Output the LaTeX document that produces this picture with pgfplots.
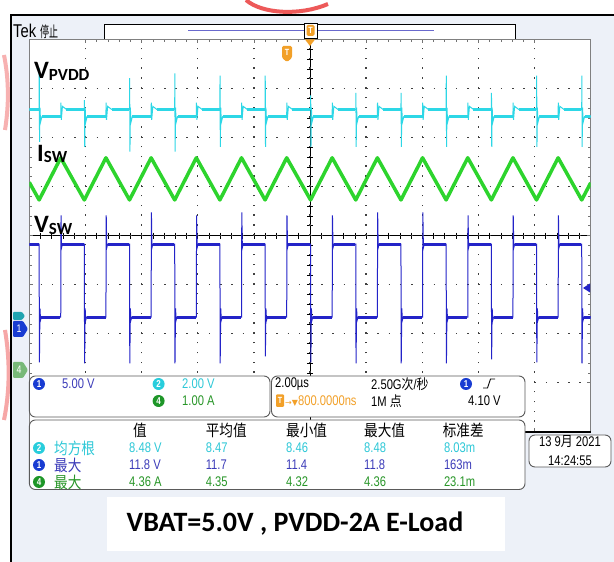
\documentclass[border=0pt]{standalone}
\usepackage{pgfplots}
\pgfplotsset{compat=1.18}
\usepackage{fontspec}
\setmainfont{Liberation Sans}
\newfontfamily\tek[FakeStretch=0.8]{Liberation Sans}
\newfontfamily\zh[FakeStretch=0.85]{Noto Sans CJK SC}
\newfontfamily\zhn[FakeStretch=0.6]{Noto Sans CJK SC}
\newfontfamily\calfont{Carlito}
\newfontfamily\dvfont{DejaVu Sans}

\definecolor{chone}{RGB}{35,35,200}
\definecolor{chtwo}{RGB}{45,215,230}
\definecolor{chfour}{RGB}{45,212,45}
\definecolor{bgpanel}{RGB}{237,241,248}
\definecolor{tekorange}{RGB}{242,160,40}
\definecolor{barblue}{RGB}{105,105,205}
\definecolor{txtone}{RGB}{60,60,185}
\definecolor{txttwo}{RGB}{45,200,215}
\definecolor{txtfour}{RGB}{40,150,40}
\definecolor{badgeone}{RGB}{25,60,210}
\definecolor{badgetwo}{RGB}{40,205,220}
\definecolor{badgefour}{RGB}{30,150,40}
\definecolor{markgreen}{RGB}{120,185,120}
\definecolor{panelgray}{RGB}{90,90,90}
\definecolor{wmred}{RGB}{235,60,60}

\newcommand{\badge}[3]{\node[circle, fill=#1, text=white, inner sep=0pt, minimum size=12pt,
  font=\tek\bfseries\fontsize{10}{10}\selectfont] at (#2) {#3};}

\begin{document}
\begin{tikzpicture}
\useasboundingbox (0pt,0pt) rectangle (614pt,562pt);
% pixel-style coordinates (y down) for the screen furniture
\begin{scope}[x=1pt, y=-1pt, yshift=562pt]
\fill[white] (0,0) rectangle (614,562);
% faint watermark remains outside the frame
\draw[wmred, line width=4pt, opacity=0.85] (246,0) .. controls (262,14) and (300,16) .. (328,4);
\draw[wmred!40, line width=4pt] (4,55) .. controls (9,80) and (9,105) .. (5,130);
\draw[wmred!45, line width=4pt] (5,330) .. controls (10,360) and (10,390) .. (4,420);
\fill[bgpanel] (11,15) rectangle (614,562);
\draw[black, line width=2.5pt] (11,562) -- (11,15) -- (614,15);

% top status bar
\node[anchor=base west, inner sep=0pt] at (13,37.5) {\tek\fontsize{18.5}{18.5}\selectfont Tek};
\node[anchor=base west, inner sep=0pt] at (40,37.5) {\zhn\fontsize{15}{15}\selectfont 停止};
\draw[black, line width=0.8pt, fill=white] (104.5,24) rectangle (515,39);
\draw[barblue, line width=1.5pt] (188,30.7) -- (434,30.7);
\draw[black, line width=1pt, fill=white] (304,23.5) rectangle (317,39);
\fill[tekorange, rounded corners=1.5pt] (306.5,25) rectangle (314.5,36);
\node[text=white, font=\tek\bfseries\fontsize{9}{9}\selectfont] at (310.5,30.5) {T};

% screen and centre cross
\fill[white] (29.3,39.5) rectangle (590.7,431.7);
\draw[black, line width=0.8pt] (310,39.5) -- (310,431.7);
\draw[black, line width=0.8pt] (29.3,235.6) -- (590.7,235.6);
\foreach \i in {1,...,49} \draw[black, line width=0.6pt] ({29.3+\i*11.228},232.6) -- ++(0,6);
\foreach \i in {1,...,39} \draw[black, line width=0.6pt] (307,{39.5+\i*9.805}) -- ++(6,0);
\end{scope}

\begin{axis}[
  at={(29.3pt,130.3pt)}, anchor=south west,
  width=561.4pt, height=392.2pt, scale only axis,
  xmin=-10, xmax=10, ymin=-4, ymax=4,
  axis line style={draw=black!50, line width=0.6pt},
  xtick={-8,-6,...,8}, ytick={-3,-2,...,3},
  minor x tick num=4, minor y tick num=4,
  xticklabels={}, yticklabels={},
  tick align=inside,
  major tick length=4pt, minor tick length=3pt,
  tick style={black!55, line width=0.6pt},
  xmajorgrids, ymajorgrids,
  x grid style={black!75, line width=1.5pt, dash pattern=on 1.5pt off 8.305pt},
  y grid style={black!75, line width=1.5pt, dash pattern=on 1.5pt off 9.728pt},
  unbounded coords=jump,
]
% CH2 V_PVDD, 2 V/div
\addplot[chtwo, line width=1pt, y filter/.expression={y/2-1.739}] coordinates {
(-10,8.63)
(-9.65,8.63)(-9.645,10.3)(-9.635,7.3)(-9.62,8.7)(-9.60,8.1)(-9.55,8.33)(-8.88,8.33)(-8.875,8.9)(-8.86,8.2)(-8.82,8.75)(-8.68,8.63)
(-8.04,8.63)(-8.035,9.0)(-8.025,7.1)(-8.01,8.7)(-7.99,8.1)(-7.94,8.33)(-7.27,8.33)(-7.265,8.9)(-7.25,8.2)(-7.21,8.75)(-7.07,8.63)
(-6.43,8.63)(-6.425,9.9)(-6.415,6.9)(-6.40,8.7)(-6.38,8.1)(-6.33,8.33)(-5.66,8.33)(-5.655,8.9)(-5.64,8.2)(-5.60,8.75)(-5.46,8.63)
(-4.82,8.63)(-4.815,10.1)(-4.805,6.9)(-4.79,8.7)(-4.77,8.1)(-4.72,8.33)(-4.05,8.33)(-4.045,8.9)(-4.03,8.2)(-3.99,8.75)(-3.85,8.63)
(-3.21,8.63)(-3.205,10.0)(-3.195,7.1)(-3.18,8.7)(-3.16,8.1)(-3.11,8.33)(-2.44,8.33)(-2.435,8.9)(-2.42,8.2)(-2.38,8.75)(-2.24,8.63)
(-1.60,8.63)(-1.595,10.0)(-1.585,7.1)(-1.57,8.7)(-1.55,8.1)(-1.50,8.33)(-0.83,8.33)(-0.825,8.9)(-0.81,8.2)(-0.77,8.75)(-0.63,8.63)
(0.02,8.63)(0.025,9.2)(0.035,7.1)(0.05,8.7)(0.07,8.1)(0.12,8.33)(0.79,8.33)(0.795,8.9)(0.81,8.2)(0.85,8.75)(0.99,8.63)
(1.63,8.63)(1.635,9.3)(1.645,7.1)(1.66,8.7)(1.68,8.1)(1.73,8.33)(2.40,8.33)(2.405,8.9)(2.42,8.2)(2.46,8.75)(2.60,8.63)
(3.24,8.63)(3.245,9.3)(3.255,7.1)(3.27,8.7)(3.29,8.1)(3.34,8.33)(4.01,8.33)(4.015,8.9)(4.03,8.2)(4.07,8.75)(4.21,8.63)
(4.85,8.63)(4.855,10.0)(4.865,7.1)(4.88,8.7)(4.90,8.1)(4.95,8.33)(5.62,8.33)(5.625,8.9)(5.64,8.2)(5.68,8.75)(5.82,8.63)
(6.46,8.63)(6.465,9.3)(6.475,7.1)(6.49,8.7)(6.51,8.1)(6.56,8.33)(7.23,8.33)(7.235,8.9)(7.25,8.2)(7.29,8.75)(7.43,8.63)
(8.07,8.63)(8.075,10.0)(8.085,7.1)(8.10,8.7)(8.12,8.1)(8.17,8.33)(8.84,8.33)(8.845,8.9)(8.86,8.2)(8.90,8.75)(9.04,8.63)
(9.68,8.63)(9.685,10.0)(9.695,7.1)(9.71,8.7)(9.73,8.1)(9.78,8.33)(10,8.33)
};
\addplot[chtwo, line width=3.2pt, y filter/.expression={y/2-1.739}] coordinates {
(-10,8.63)(-9.66,8.63)(nan,nan)(-9.55,8.33)(-8.88,8.33)(nan,nan)(-8.68,8.63)(-8.05,8.63)(nan,nan)
(-7.94,8.33)(-7.27,8.33)(nan,nan)(-7.07,8.63)(-6.44,8.63)(nan,nan)(-6.33,8.33)(-5.66,8.33)(nan,nan)
(-5.46,8.63)(-4.83,8.63)(nan,nan)(-4.72,8.33)(-4.05,8.33)(nan,nan)(-3.85,8.63)(-3.22,8.63)(nan,nan)
(-3.11,8.33)(-2.44,8.33)(nan,nan)(-2.24,8.63)(-1.61,8.63)(nan,nan)(-1.50,8.33)(-0.83,8.33)(nan,nan)
(-0.63,8.63)(0.01,8.63)(nan,nan)(0.12,8.33)(0.79,8.33)(nan,nan)(0.99,8.63)(1.62,8.63)(nan,nan)
(1.73,8.33)(2.40,8.33)(nan,nan)(2.60,8.63)(3.23,8.63)(nan,nan)(3.34,8.33)(4.01,8.33)(nan,nan)
(4.21,8.63)(4.84,8.63)(nan,nan)(4.95,8.33)(5.62,8.33)(nan,nan)(5.82,8.63)(6.45,8.63)(nan,nan)
(6.56,8.33)(7.23,8.33)(nan,nan)(7.43,8.63)(8.06,8.63)(nan,nan)(8.17,8.33)(8.84,8.33)(nan,nan)
(9.04,8.63)(9.67,8.63)(nan,nan)(9.78,8.33)(10,8.33)
};
% CH4 I_SW, 1 A/div
\addplot[chfour, line width=3.5pt, line join=round, y filter/.expression={y-2.743}] coordinates {
(-10,3.83)(-9.65,3.47)(-8.88,4.33)(-8.04,3.47)(-7.27,4.33)(-6.43,3.47)(-5.66,4.33)
(-4.82,3.47)(-4.05,4.33)(-3.21,3.47)(-2.44,4.33)(-1.60,3.47)(-0.83,4.33)(0.02,3.47)
(0.79,4.33)(1.63,3.47)(2.40,4.33)(3.24,3.47)(4.01,4.33)(4.85,3.47)(5.62,4.33)
(6.46,3.47)(7.23,4.33)(8.07,3.47)(8.84,4.33)(9.68,3.47)(10,3.82)
};
% CH1 V_SW, 5 V/div
\addplot[chone, line width=1pt, y filter/.expression={y/5-1.886}] coordinates {
(-10,8.57)
(-9.65,8.57)(-9.64,-3.5)(-9.62,2.0)(-9.60,0.8)(-9.57,1.12)(-8.88,1.12)(-8.87,11.5)(-8.85,8.2)(-8.82,8.57)
(-8.04,8.57)(-8.03,-3.6)(-8.01,2.0)(-7.99,0.8)(-7.96,1.12)(-7.27,1.12)(-7.26,11.5)(-7.24,8.2)(-7.21,8.57)
(-6.43,8.57)(-6.42,-3.6)(-6.40,2.0)(-6.38,0.8)(-6.35,1.12)(-5.66,1.12)(-5.65,11.8)(-5.63,8.2)(-5.60,8.57)
(-4.82,8.57)(-4.81,-3.6)(-4.79,2.0)(-4.77,0.8)(-4.74,1.12)(-4.05,1.12)(-4.04,11.5)(-4.02,8.2)(-3.99,8.57)
(-3.21,8.57)(-3.20,-3.6)(-3.18,2.0)(-3.16,0.8)(-3.13,1.12)(-2.44,1.12)(-2.43,11.8)(-2.41,8.2)(-2.38,8.57)
(-1.60,8.57)(-1.59,-2.9)(-1.57,2.0)(-1.55,0.8)(-1.52,1.12)(-0.83,1.12)(-0.82,11.5)(-0.80,8.2)(-0.77,8.57)
(0.02,8.57)(0.03,-3.5)(0.05,2.0)(0.07,0.8)(0.10,1.12)(0.79,1.12)(0.80,11.5)(0.82,8.2)(0.85,8.57)
(1.63,8.57)(1.64,-3.6)(1.66,2.0)(1.68,0.8)(1.71,1.12)(2.40,1.12)(2.41,11.8)(2.43,8.2)(2.46,8.57)
(3.24,8.57)(3.25,-3.6)(3.27,2.0)(3.29,0.8)(3.32,1.12)(4.01,1.12)(4.02,11.8)(4.04,8.2)(4.07,8.57)
(4.85,8.57)(4.86,-3.6)(4.88,2.0)(4.90,0.8)(4.93,1.12)(5.62,1.12)(5.63,11.5)(5.65,8.2)(5.68,8.57)
(6.46,8.57)(6.47,-3.2)(6.49,2.0)(6.51,0.8)(6.54,1.12)(7.23,1.12)(7.24,11.5)(7.26,8.2)(7.29,8.57)
(8.07,8.57)(8.08,-3.5)(8.10,2.0)(8.12,0.8)(8.15,1.12)(8.84,1.12)(8.85,11.5)(8.87,8.2)(8.90,8.57)
(9.68,8.57)(9.69,-3.6)(9.71,2.0)(9.73,0.8)(9.76,1.12)(10,1.12)
};
\addplot[chone, line width=3pt, y filter/.expression={y/5-1.886}] coordinates {
(-10,8.57)(-9.66,8.57)(nan,nan)(-9.57,1.12)(-8.89,1.12)(nan,nan)(-8.82,8.57)(-8.05,8.57)(nan,nan)
(-7.96,1.12)(-7.28,1.12)(nan,nan)(-7.21,8.57)(-6.44,8.57)(nan,nan)(-6.35,1.12)(-5.67,1.12)(nan,nan)
(-5.60,8.57)(-4.83,8.57)(nan,nan)(-4.74,1.12)(-4.06,1.12)(nan,nan)(-3.99,8.57)(-3.22,8.57)(nan,nan)
(-3.13,1.12)(-2.45,1.12)(nan,nan)(-2.38,8.57)(-1.61,8.57)(nan,nan)(-1.52,1.12)(-0.84,1.12)(nan,nan)
(-0.77,8.57)(0.01,8.57)(nan,nan)(0.10,1.12)(0.78,1.12)(nan,nan)(0.85,8.57)(1.62,8.57)(nan,nan)
(1.71,1.12)(2.39,1.12)(nan,nan)(2.46,8.57)(3.23,8.57)(nan,nan)(3.32,1.12)(4.00,1.12)(nan,nan)
(4.07,8.57)(4.84,8.57)(nan,nan)(4.93,1.12)(5.61,1.12)(nan,nan)(5.68,8.57)(6.45,8.57)(nan,nan)
(6.54,1.12)(7.22,1.12)(nan,nan)(7.29,8.57)(8.06,8.57)(nan,nan)(8.15,1.12)(8.83,1.12)(nan,nan)
(8.90,8.57)(9.67,8.57)(nan,nan)(9.76,1.12)(10,1.12)
};
\end{axis}

\begin{scope}[x=1pt, y=-1pt, yshift=562pt]
\draw[black, line width=2pt] (525,431.7) -- (590.7,431.7);

% trigger markers
\fill[tekorange] (305,39.5) -- (315,39.5) -- (310,46) -- cycle;
\fill[tekorange, rounded corners=1.5pt] (282,46) -- (292,46) -- (292,58) -- (287,62) -- (282,58) -- cycle;
\node[text=white, font=\tek\bfseries\fontsize{9}{9}\selectfont] at (287,52.5) {T};
\fill[chone] (583,288) -- (590,283.5) -- (590,292.5) -- cycle;

% channel markers
\fill[badgetwo!80!black, rounded corners=1pt] (13,312) -- (22,312) -- (25,316) -- (22,320) -- (13,320) -- cycle;
\fill[badgeone, rounded corners=1pt] (13,321) -- (23,321) -- (28,329) -- (23,337) -- (13,337) -- cycle;
\node[text=white, font=\tek\fontsize{11}{11}\selectfont] at (19,329) {1};
\fill[markgreen, rounded corners=1pt] (13,362) -- (23,362) -- (28,370) -- (23,378) -- (13,378) -- cycle;
\node[text=white, font=\tek\fontsize{11}{11}\selectfont] at (19,370) {4};

% trace labels
\node[anchor=base west, inner sep=0pt] at (34,79) {\calfont\bfseries\fontsize{25}{25}\selectfont V\lower2pt\hbox{\fontsize{17}{17}\selectfont PVDD}};
\node[anchor=base west, inner sep=0pt] at (37,162) {\calfont\bfseries\fontsize{25}{25}\selectfont I\lower1pt\hbox{\fontsize{17}{17}\selectfont SW}};
\node[anchor=base west, inner sep=0pt] at (34,233) {\calfont\bfseries\fontsize{25}{25}\selectfont V\lower2pt\hbox{\fontsize{17}{17}\selectfont SW}};

% readout panels
\draw[panelgray, line width=0.9pt, fill=white, rounded corners=6pt] (29.4,376) rectangle (270,417);
\draw[panelgray, line width=0.9pt, fill=white, rounded corners=6pt] (271.5,376) rectangle (525,417);
\draw[panelgray, line width=0.9pt, fill=white, rounded corners=6pt] (29.4,420) rectangle (525,489.5);
\draw[panelgray, line width=0.9pt, fill=white, rounded corners=6pt] (529,435) rectangle (611,467);

\tek\fontsize{14}{14}\selectfont
\badge{badgeone}{39,384}{1}
\node[anchor=west, inner sep=0pt, text=txtone] at (62,384) {5.00 V};
\badge{badgetwo}{158.6,384}{2}
\node[anchor=west, inner sep=0pt, text=txttwo] at (182,384) {2.00 V};
\badge{badgefour}{158.6,401}{4}
\node[anchor=west, inner sep=0pt, text=txtfour] at (182,401) {1.00 A};

\node[anchor=west, inner sep=0pt] at (275,384) {2.00µs};
\node[anchor=west, inner sep=0pt] at (371,384) {2.50G{\zh 次}/{\zh 秒}};
\badge{badgeone}{466,384}{1}
\draw[black, line width=0.8pt] (483,388) -- (487.5,388) -- (490.5,379) -- (495,379);
\fill[tekorange, rounded corners=1pt] (276,394.5) rectangle (284,407);
\node[text=white, font=\tek\bfseries\fontsize{9}{9}\selectfont] at (280,400.7) {T};
\node[anchor=west, inner sep=0pt, text=tekorange] at (285,401) {{\dvfont\fontsize{8}{8}\selectfont →▼}800.0000ns};
\node[anchor=west, inner sep=0pt] at (371,401) {1M {\zh 点}};
\node[anchor=west, inner sep=0pt] at (468,401) {4.10 V};

\node[anchor=west, inner sep=0pt] at (133,430) {\zh\fontsize{16}{16}\selectfont 值};
\node[anchor=west, inner sep=0pt] at (205.6,430) {\zh\fontsize{16}{16}\selectfont 平均值};
\node[anchor=west, inner sep=0pt] at (286,430) {\zh\fontsize{16}{16}\selectfont 最小值};
\node[anchor=west, inner sep=0pt] at (364,430) {\zh\fontsize{16}{16}\selectfont 最大值};
\node[anchor=west, inner sep=0pt] at (442.6,430) {\zh\fontsize{16}{16}\selectfont 标准差};

\badge{badgetwo}{39,448}{2}
\node[anchor=west, inner sep=0pt, text=txttwo] at (54,448) {\zh\fontsize{16}{16}\selectfont 均方根};
\node[anchor=west, inner sep=0pt, text=txttwo] at (129,448) {8.48 V};
\node[anchor=west, inner sep=0pt, text=txttwo] at (205.6,448) {8.47};
\node[anchor=west, inner sep=0pt, text=txttwo] at (286,448) {8.46};
\node[anchor=west, inner sep=0pt, text=txttwo] at (364,448) {8.48};
\node[anchor=west, inner sep=0pt, text=txttwo] at (443.8,448) {8.03m};

\badge{badgeone}{39,465}{1}
\node[anchor=west, inner sep=0pt, text=txtone] at (54,465) {\zh\fontsize{16}{16}\selectfont 最大};
\node[anchor=west, inner sep=0pt, text=txtone] at (129,465) {11.8 V};
\node[anchor=west, inner sep=0pt, text=txtone] at (205.6,465) {11.7};
\node[anchor=west, inner sep=0pt, text=txtone] at (286,465) {11.4};
\node[anchor=west, inner sep=0pt, text=txtone] at (364,465) {11.8};
\node[anchor=west, inner sep=0pt, text=txtone] at (443.8,465) {163m};

\badge{badgefour}{39,482}{4}
\node[anchor=west, inner sep=0pt, text=txtfour] at (54,482) {\zh\fontsize{16}{16}\selectfont 最大};
\node[anchor=west, inner sep=0pt, text=txtfour] at (129,482) {4.36 A};
\node[anchor=west, inner sep=0pt, text=txtfour] at (205.6,482) {4.35};
\node[anchor=west, inner sep=0pt, text=txtfour] at (286,482) {4.32};
\node[anchor=west, inner sep=0pt, text=txtfour] at (364,482) {4.36};
\node[anchor=west, inner sep=0pt, text=txtfour] at (443.8,482) {23.1m};

\node at (570,442) {13 9{\zh 月} 2021};
\node at (570,461) {14:24:55};

% caption
\fill[white] (106.5,497) rectangle (505,551);
\node at (295,524) {\calfont\bfseries\fontsize{28}{28}\selectfont VBAT=5.0V , PVDD-2A E-Load};
\end{scope}
\end{tikzpicture}
\end{document}
